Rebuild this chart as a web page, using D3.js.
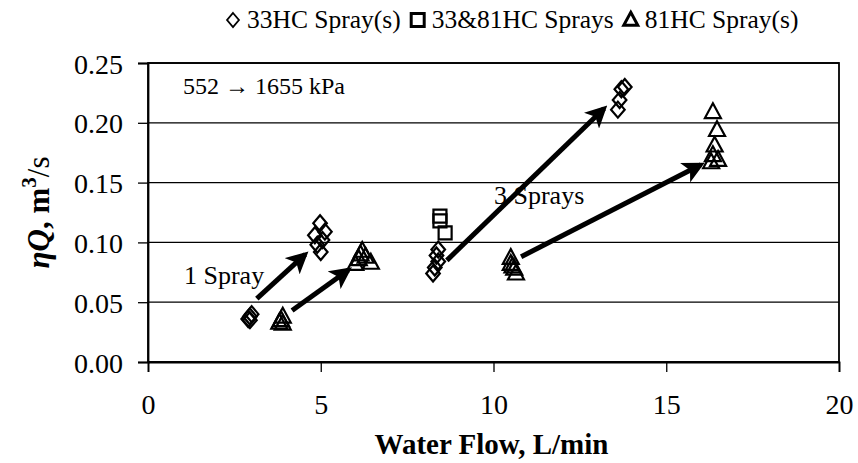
<!DOCTYPE html>
<html>
<head>
<meta charset="utf-8">
<script src="https://cdn.jsdelivr.net/npm/d3@7"></script>
<style>
  body { margin: 0; background: #fff; }
  svg text { font-family: "Liberation Serif", "Times New Roman", serif; fill: #000; }
</style>
</head>
<body>
<div id="chart"></div>
<script>
// 33HC spray(s): diamonds
var hc33 = [
  [2.95, 0.035], [2.95, 0.038], [3.0, 0.040], [2.9, 0.036],
  [4.98, 0.116], [4.83, 0.106], [5.12, 0.109], [4.9, 0.098], [5.0, 0.092], [5.05, 0.102],
  [8.4, 0.094], [8.35, 0.089], [8.4, 0.084], [8.3, 0.079], [8.25, 0.074],
  [13.8, 0.230], [13.7, 0.228], [13.65, 0.219], [13.6, 0.211]
];
// 33&81HC sprays: squares
var hc3381 = [[8.45, 0.122], [8.45, 0.118], [8.6, 0.108]];
// 81HC spray(s): triangles
var hc81 = [
  [3.9, 0.038], [3.85, 0.035], [3.9, 0.032], [3.8, 0.033],
  [6.0, 0.082], [6.1, 0.086], [6.2, 0.093], [6.3, 0.088], [6.45, 0.083], [6.15, 0.090],
  [10.5, 0.087], [10.5, 0.082], [10.6, 0.078], [10.65, 0.074], [10.55, 0.080],
  [16.35, 0.209], [16.47, 0.194], [16.4, 0.181], [16.35, 0.173], [16.5, 0.169], [16.3, 0.167]
];
// arrows [x1, y1, x2, y2]
var arrows = [
  [3.15, 0.053, 4.55, 0.090],
  [4.17, 0.043, 5.8, 0.077],
  [8.65, 0.085, 13.2, 0.212],
  [10.8, 0.088, 16.0, 0.165]
];
var xTicks = [0, 5, 10, 15, 20];
var yTicks = [0, 0.05, 0.10, 0.15, 0.20, 0.25];
var legendItems = ["33HC Spray(s)", "33&81HC Sprays", "81HC Spray(s)"];

var W = 858, H = 463;
var margin = { left: 148, right: 19, top: 63, bottom: 101 };
var width = W - margin.left - margin.right;
var height = H - margin.top - margin.bottom;
var serif = "'Liberation Serif', 'Times New Roman', serif";

var svg = d3.select("#chart").append("svg")
    .attr("width", W)
    .attr("height", H);

var defs = svg.append("defs");
defs.append("marker")
    .attr("id", "head")
    .attr("viewBox", "0 0 10 10")
    .attr("refX", 8).attr("refY", 5)
    .attr("markerWidth", 4.4).attr("markerHeight", 4.4)
    .attr("markerUnits", "strokeWidth")
    .attr("orient", "auto")
    .append("path")
    .attr("d", "M0,0 L10,5 L0,10 L2.5,5 Z")
    .attr("fill", "#000");

var g = svg.append("g")
    .attr("transform", "translate(" + margin.left + "," + margin.top + ")");

var x = d3.scaleLinear().domain([0, 20]).range([0, width]);
var y = d3.scaleLinear().domain([0, 0.25]).range([height, 0]);

// gridlines
g.selectAll(".grid")
    .data(yTicks).enter()
    .append("line")
    .attr("x1", 0).attr("x2", width)
    .attr("y1", function(d){ return y(d) }).attr("y2", function(d){ return y(d) })
    .attr("stroke", "#000").attr("stroke-width", 1.3);

// border
g.append("rect")
    .attr("width", width).attr("height", height)
    .attr("fill", "none").attr("stroke", "#000").attr("stroke-width", 1.8);

var xAxis = d3.axisBottom(x).tickValues(xTicks).tickSize(10).tickPadding(22)
    .tickFormat(d3.format("d"));
var yAxis = d3.axisLeft(y).tickValues(yTicks).tickSize(10).tickPadding(15)
    .tickFormat(d3.format(".2f"));

var gx = g.append("g").attr("transform", "translate(0," + height + ")").call(xAxis);
var gy = g.append("g").call(yAxis);
[gx, gy].forEach(function(a){
    a.select(".domain").attr("stroke-width", 1.8);
    a.selectAll(".tick line").attr("stroke-width", 1.3);
    a.selectAll(".tick text")
        .style("font-family", serif)
        .style("font-size", "28px")
        .attr("fill", "#000");
});
gy.selectAll(".tick text").attr("dy", "0.36em");

// axis titles
g.append("text")
    .attr("x", width / 2 - 2)
    .attr("y", height + 92)
    .attr("text-anchor", "middle")
    .style("font-size", "29px")
    .style("font-weight", "bold")
    .text("Water Flow, L/min");

var yt = g.append("text")
    .attr("transform", "translate(-99," + (height / 2) + ") rotate(-90)")
    .attr("text-anchor", "middle")
    .style("font-size", "31px")
    .style("font-weight", "bold");
yt.append("tspan").style("font-style", "italic").text("ηQ");
yt.append("tspan").text(", m");
yt.append("tspan").attr("dy", -13).style("font-size", "21px").text("3");
yt.append("tspan").attr("dy", 13).style("font-weight", "normal").text("/s");

// shapes
function diamond(s) { return "M0," + (-s) + "L" + (s * 0.85) + ",0L0," + s + "L" + (-s * 0.85) + ",0Z"; }
function square(s) { return "M" + (-s) + "," + (-s) + "H" + s + "V" + s + "H" + (-s) + "Z"; }
function triangle(s) { return "M0," + (-s * 1.1) + "L" + s + "," + (s * 0.75) + "L" + (-s) + "," + (s * 0.75) + "Z"; }

function drawSeries(data, shape, size) {
    g.append("g").selectAll("path")
        .data(data).enter()
        .append("path")
        .attr("transform", function(d){ return "translate(" + x(d[0]) + "," + y(d[1]) + ")" })
        .attr("d", shape(size))
        .attr("fill", "none")
        .attr("stroke", "#000")
        .attr("stroke-width", 2.2);
}
drawSeries(hc33, diamond, 8);
drawSeries(hc3381, square, 6.5);
drawSeries(hc81, triangle, 8);

// arrows
g.selectAll(".arrow")
    .data(arrows).enter()
    .append("line")
    .attr("class", "arrow")
    .attr("x1", function(d){ return x(d[0]) })
    .attr("y1", function(d){ return y(d[1]) })
    .attr("x2", function(d){ return x(d[2]) })
    .attr("y2", function(d){ return y(d[3]) })
    .attr("stroke", "#000")
    .attr("stroke-width", 5)
    .attr("marker-end", "url(#head)");

// annotations
g.append("text").attr("x", 35).attr("y", 31).style("font-size", "24px")
    .text("552  \u2192 1655 kPa");
g.append("text").attr("x", 36).attr("y", 221).style("font-size", "26px")
    .text("1 Spray");
g.append("text").attr("x", 346).attr("y", 141).style("font-size", "26px")
    .text("3 Sprays");

// legend
var legend = svg.append("g").attr("transform", "translate(0,20)");
var legShapes = [diamond(7), square(6.5), triangle(7)];
var lx = 233;
legendItems.forEach(function(t, i){
    legend.append("path")
        .attr("transform", "translate(" + lx + ",0)")
        .attr("d", legShapes[i])
        .attr("fill", "none")
        .attr("stroke", "#000")
        .attr("stroke-width", i === 0 ? 1.8 : 3);
    var txt = legend.append("text")
        .attr("x", lx + 14)
        .attr("y", 8)
        .style("font-size", "25.5px")
        .text(t);
    lx += 14 + txt.node().getComputedTextLength() + 17;
});
</script>
</body>
</html>
